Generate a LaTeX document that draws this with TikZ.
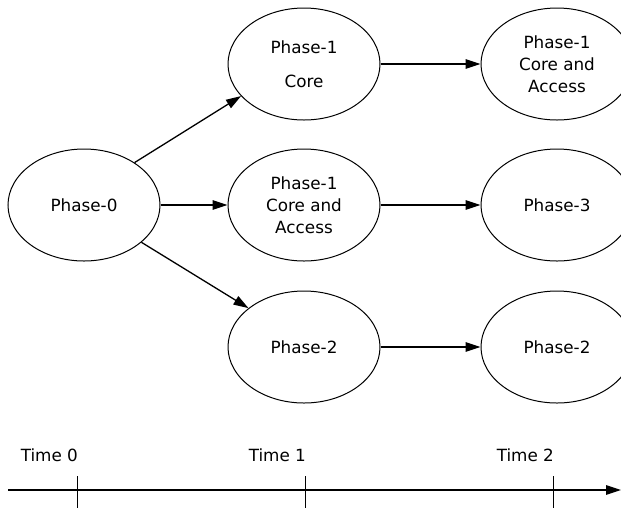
\documentclass[tikz,border=0pt]{standalone}
\usepackage{fontspec}
\setmainfont{DejaVu Sans}
\usetikzlibrary{shapes.geometric, arrows.meta}

\begin{document}
\begin{tikzpicture}[x=0.5pt, y=-0.5pt,
    phase/.style={ellipse, draw, line width=0.5pt, minimum width=76pt, minimum height=56pt,
        inner sep=0pt, align=center, font=\fontsize{8.4}{11}\selectfont},
    flow/.style={-{Triangle[length=7.5pt, width=4.8pt]}, line width=0.65pt},
    timelbl/.style={anchor=east, font=\fontsize{8.4}{11}\selectfont}]
    \clip (0,0) rectangle (621,510);

    % Phases
    \node[phase] (p0) at (84,205) {Phase-0};
    \node[phase] (p1core) at (304,64) {Phase-1\\[6pt]Core};
    \node[phase] (p1ca) at (304,205) {Phase-1\\Core and\\Access};
    \node[phase] (p2) at (304,347) {Phase-2};
    \node[phase] (p1ca2) at (557,64) {Phase-1\\Core and\\Access};
    \node[phase] (p3) at (557,205) {Phase-3};
    \node[phase] (p2b) at (557,347) {Phase-2};

    % Transitions
    \draw[flow] (p0.40) -- (p1core.207);
    \draw[flow] (p0) -- (p1ca);
    \draw[flow] (p0.327) -- (p2.145);
    \draw[flow] (p1core) -- (p1ca2);
    \draw[flow] (p1ca) -- (p3);
    \draw[flow] (p2) -- (p2b);

    % Time axis
    \coordinate (axstart) at (8,490);
    \coordinate (axend) at (621,490);
    \draw[flow] (axstart) -- (axend);
    \foreach \x/\t in {77/0, 305/1, 553/2} {
        \draw[line width=0.5pt] (\x,476) -- (\x,508);
        \node[timelbl] (time\t) at (\x+8,455) {Time \t};
    }
\end{tikzpicture}
\end{document}
